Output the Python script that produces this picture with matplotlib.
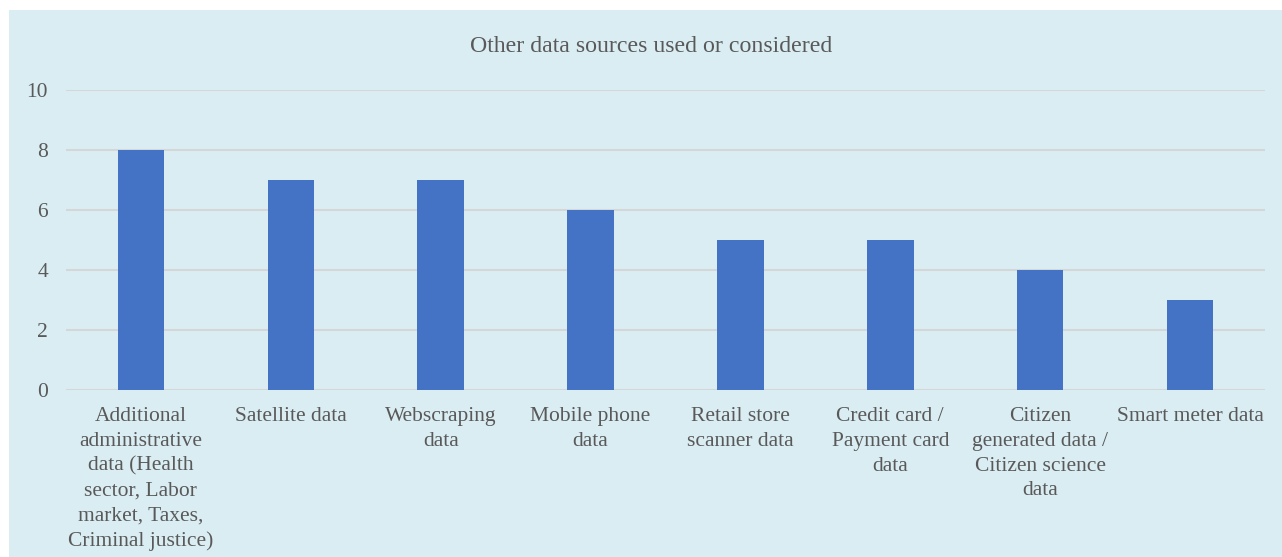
import matplotlib
matplotlib.use('Agg')
import matplotlib.pyplot as plt
from matplotlib.patches import Rectangle

# data
categories = ['Additional\nadministrative\ndata (Health\nsector, Labor\nmarket, Taxes,\nCriminal justice)',
              'Satellite data',
              'Webscraping\ndata',
              'Mobile phone\ndata',
              'Retail store\nscanner data',
              'Credit card /\nPayment card\ndata',
              'Citizen\ngenerated data /\nCitizen science\ndata',
              'Smart meter data']
values = [8, 7, 7, 6, 5, 5, 4, 3]
yticks = [0, 2, 4, 6, 8, 10]

bg = '#DAEDF3'
txt = '#595959'
fs = 15.5

plt.rcParams['font.family'] = ['Liberation Serif', 'DejaVu Serif']

fig = plt.figure(figsize=(12.82, 5.57), dpi=100)
fig.patches.append(Rectangle((9 / 1282, 0), 1 - 9 / 1282, 1 - 10 / 557,
                             transform=fig.transFigure, facecolor=bg,
                             edgecolor='none', zorder=-10))

ax = fig.add_axes([66 / 1282, 1 - 390 / 557, (1265 - 66) / 1282, 300 / 557])
ax.set_zorder(5)
ax.set_facecolor('none')
x = range(len(categories))
ax.bar(x, values, width=0.31, color='#4472C4', zorder=3)

ax.set_xlim(-0.5, len(categories) - 0.5)
ax.set_ylim(0, 10)
ax.set_yticks(yticks)
ax.set_xticks(list(x))
ax.set_xticklabels(categories, fontsize=fs, color=txt, linespacing=1.4, va='top')
ax.tick_params(axis='y', labelsize=fs, colors=txt, length=0, pad=13)
ax.tick_params(axis='x', length=0, pad=12.5)
ax.grid(axis='y', color='#D4D6D8', linewidth=1.5, zorder=1)
for s in ax.spines.values():
    s.set_visible(False)

fig.text(651 / 1282, 1 - 47 / 557, 'Other data sources used or considered',
         ha='center', va='center', fontsize=17.2, color=txt, zorder=6)

plt.savefig('out.png', dpi=100)
plt.close()
